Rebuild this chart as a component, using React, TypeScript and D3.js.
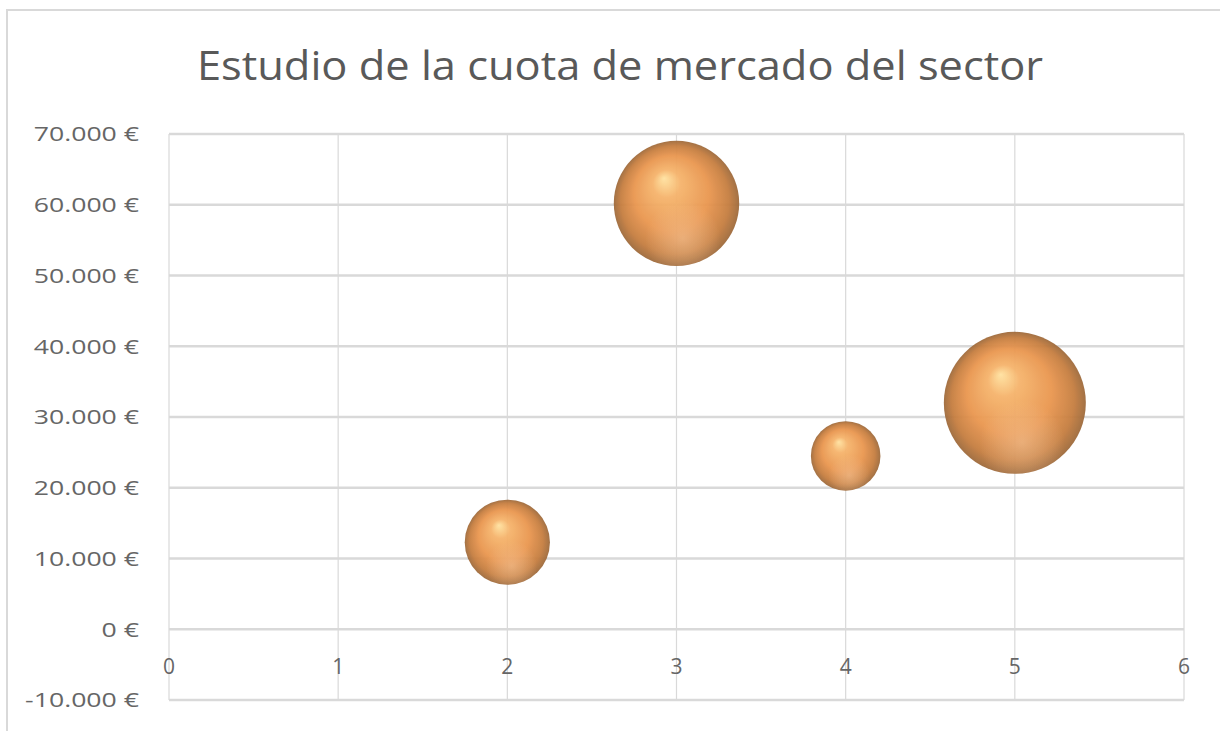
import { useMemo } from 'react';
import * as d3 from 'd3';

// Bubble data
const xValues = [2, 3, 4, 5];
const yValues = [12300, 60200, 24500, 32000];
const sizes = [18, 39, 12, 50];

const yTicks = [-10000, 0, 10000, 20000, 30000, 40000, 50000, 60000, 70000];
const xTicks = [0, 1, 2, 3, 4, 5, 6];

const TITLE = 'Estudio de la cuota de mercado del sector';

const width = 1220;
const height = 731;
const plot = { left: 169, right: 1184, top: 134, bottom: 700 };

const fmtEuro = (v: number) => {
  const s = d3.format(',')(Math.abs(v)).replace(/,/g, '.');
  return `${v < 0 ? '-' : ''}${s} €`;
};

export default function App() {
  const xScale = useMemo(
    () => d3.scaleLinear().domain([0, 6]).range([plot.left, plot.right]),
    []
  );
  const yScale = useMemo(
    () => d3.scaleLinear().domain([-10000, 70000]).range([plot.bottom, plot.top]),
    []
  );
  const rScale = useMemo(
    () => d3.scaleSqrt().domain([0, d3.max(sizes) as number]).range([0, 71]),
    []
  );

  const font = "'Open Sans', 'Noto Sans', sans-serif";
  const grid = '#d9d9d9';
  const labelColor = '#666666';

  // draw largest first so smaller ones sit on top
  const order = d3.range(sizes.length).sort((a, b) => sizes[b] - sizes[a]);

  return (
    <svg
      width={width}
      height={height}
      style={{ position: 'absolute', left: 0, top: 0, background: '#fff' }}
    >
      <defs>
        <radialGradient id="ball" cx="50%" cy="50%" r="50%" fx="40%" fy="30%">
          <stop offset="0%" stopColor="#ffe2a0" />
          <stop offset="22%" stopColor="#f6b46c" />
          <stop offset="60%" stopColor="#e9964f" />
          <stop offset="86%" stopColor="#c67e40" />
          <stop offset="100%" stopColor="#9e6a3c" />
        </radialGradient>
        <radialGradient id="glow" cx="55%" cy="78%" r="30%">
          <stop offset="0%" stopColor="#f6c79a" stopOpacity="0.5" />
          <stop offset="100%" stopColor="#f6c79a" stopOpacity="0" />
        </radialGradient>
      </defs>

      {/* chart frame */}
      <rect x={7} y={10} width={1230} height={740} fill="#fff" stroke="#d9d9d9" strokeWidth={2} />

      <text
        x={620}
        y={80}
        textAnchor="middle"
        fontFamily={font}
        fontSize={41}
        fill="#595959"
        textLength={846}
        lengthAdjust="spacingAndGlyphs"
      >
        {TITLE}
      </text>

      {/* vertical gridlines */}
      {xTicks.map((t) => (
        <line
          key={`vx${t}`}
          x1={xScale(t)}
          x2={xScale(t)}
          y1={plot.top}
          y2={plot.bottom}
          stroke={grid}
          strokeWidth={1.2}
        />
      ))}

      {/* horizontal gridlines */}
      {yTicks.map((t) => (
        <line
          key={`hy${t}`}
          x1={plot.left}
          x2={plot.right}
          y1={yScale(t)}
          y2={yScale(t)}
          stroke={grid}
          strokeWidth={2.4}
        />
      ))}

      {/* y tick labels (glyphs look horizontally stretched in the source) */}
      {yTicks.map((t) => (
        <text
          key={`ly${t}`}
          transform={`translate(139, ${yScale(t)}) scale(1.3, 1)`}
          dy="0.36em"
          textAnchor="end"
          fontFamily={font}
          fontSize={20.5}
          fill={labelColor}
        >
          {fmtEuro(t)}
        </text>
      ))}

      {/* x tick labels along the zero line */}
      {xTicks.map((t) => (
        <text
          key={`lx${t}`}
          x={xScale(t)}
          y={yScale(0) + 45}
          textAnchor="middle"
          fontFamily={font}
          fontSize={21}
          fill={labelColor}
        >
          {t}
        </text>
      ))}

      {/* bubbles */}
      {order.map((i) => {
        const cx = xScale(xValues[i]);
        const cy = yScale(yValues[i]);
        const r = rScale(sizes[i]);
        return (
          <g key={`b${i}`} opacity={0.95}>
            <circle cx={cx} cy={cy} r={r} fill="url(#ball)" />
            <circle cx={cx} cy={cy} r={r} fill="url(#glow)" />
          </g>
        );
      })}
    </svg>
  );
}
